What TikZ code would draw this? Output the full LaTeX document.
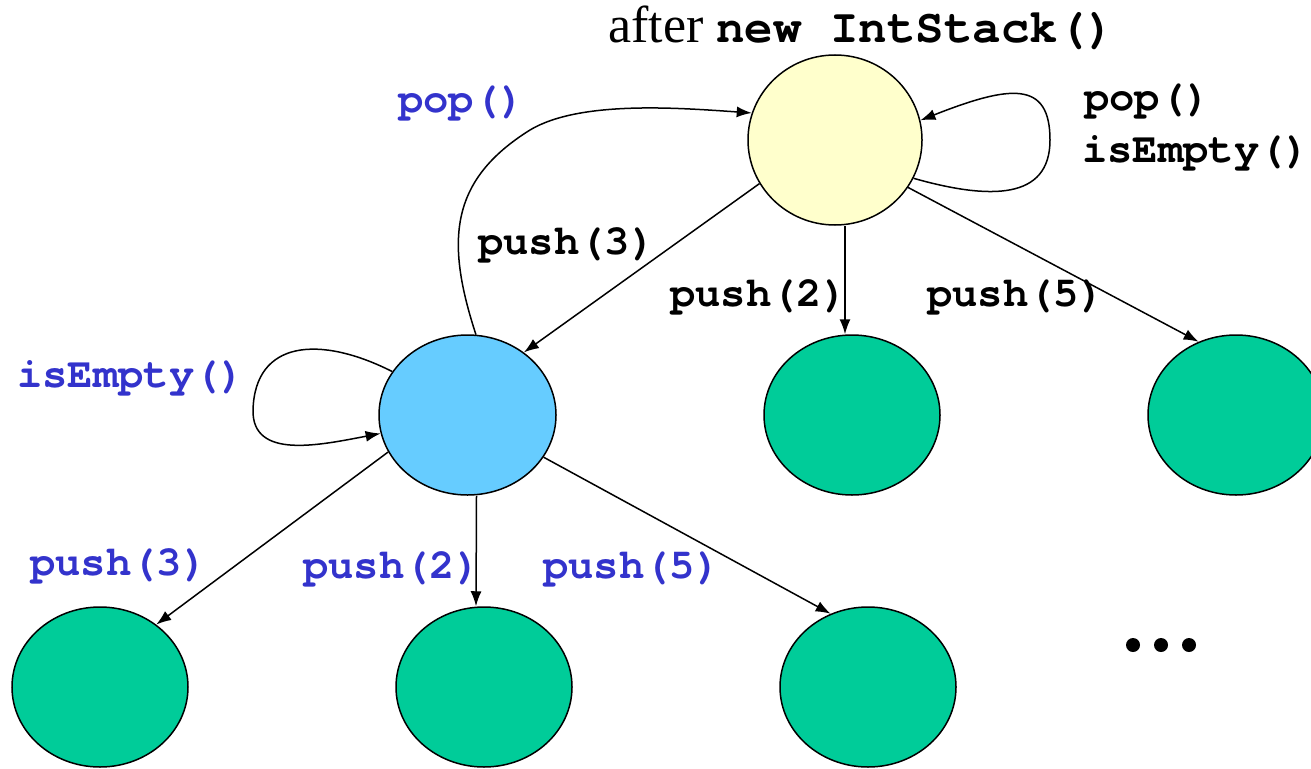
\documentclass[tikz,border=0pt]{standalone}
\usepackage{fontspec}
\setmainfont{Liberation Serif}
\setmonofont{TeX Gyre Cursor}
\usetikzlibrary{shapes.geometric,arrows.meta}
\definecolor{ylw}{HTML}{FFFFCC}
\definecolor{lblue}{HTML}{66CCFF}
\definecolor{grn}{HTML}{00CC99}
\definecolor{lbl}{HTML}{3333CC}
\tikzset{
  st/.style={ellipse,draw=black,line width=1.5pt,inner sep=0pt,minimum width=176pt,minimum height=160pt},
  arr/.style={line width=1.5pt,-{Latex[length=15pt,width=11pt]}},
  code/.style={inner sep=0pt,anchor=west,font=\fontsize{42.2}{42.2}\selectfont\ttfamily\bfseries},
  bcode/.style={code,text=lbl},
  dot/.style={circle,fill=black,inner sep=0pt,minimum size=14pt}
}
\begin{document}
\begin{tikzpicture}[x=1pt,y=-1pt]
\useasboundingbox (0,0) rectangle (1311,768);
% states
\node[st,fill=ylw,minimum width=174pt,minimum height=170pt] (y) at (835,140) {};
\node[st,fill=lblue,minimum width=177pt] (b) at (467.5,415) {};
\node[st,fill=grn] (gm) at (852,415) {};
\node[st,fill=grn] (gr) at (1236,415) {};
\node[st,fill=grn] (bl) at (100,687) {};
\node[st,fill=grn] (bm) at (484,687) {};
\node[st,fill=grn] (br) at (868,687) {};
% title
\node[inner sep=0pt,anchor=base west,font=\fontsize{52}{52}\selectfont] (title) at (608,43)
  {after {\fontsize{47.5}{47.5}\selectfont\ttfamily\bfseries new IntStack()}};
% arrows from initial state
\draw[arr] (y.210) -- (b.48);
\draw[arr] ([xshift=10pt]y.south) -- ([xshift=-7pt]gm.north);
\draw[arr] (y.327) -- (gr.117);
\draw[arr] (y.334) .. controls (990,200) and (1050,200) .. (1050,140)
  .. controls (1050,80) and (1010,85) .. (y.13);
% arrows from blue state
\draw[arr] (b.84) .. controls (445,240) and (450,180) .. (530,130)
  .. controls (580,100) and (680,108) .. (y.162);
\draw[arr] (b.150) .. controls (320,335) and (255,340) .. (253,410)
  .. controls (252,460) and (320,445) .. (b.192);
\draw[arr] (b.205) -- (bl.48);
\draw[arr] ([xshift=9pt]b.south) -- ([xshift=-8pt]bm.north);
\draw[arr] (b.331) -- (br.117);
% labels
\node[bcode] (l1) at (398,103) {pop()};
\node[code] (l2) at (1084,101) {pop()};
\node[code] (l3) at (1082,153) {isEmpty()};
\node[code] (l4) at (478,245) {push(3)};
\node[code] (l5) at (670,297) {push(2)};
\node[code] (l6) at (927,297) {push(5)};
\node[bcode] (l7) at (17,378) {isEmpty()};
\node[bcode] (l8) at (30,566) {push(3)};
\node[bcode] (l9) at (303,569) {push(2)};
\node[bcode] (l10) at (543,569) {push(5)};
% ellipsis
\node[dot] (d1) at (1133,645) {};
\node[dot] (d2) at (1161,645) {};
\node[dot] (d3) at (1189,645) {};
\end{tikzpicture}
\end{document}
